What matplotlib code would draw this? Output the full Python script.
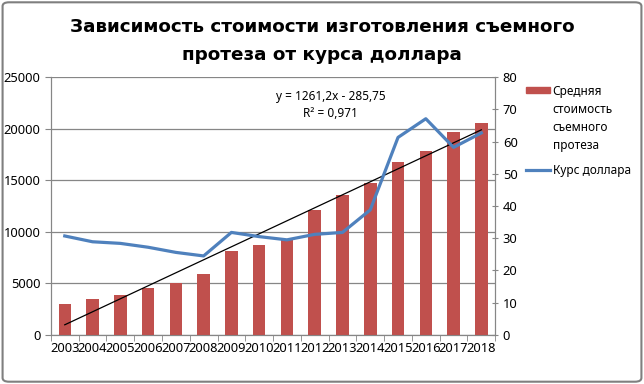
import numpy as np
import matplotlib.pyplot as plt
from matplotlib.patches import FancyBboxPatch, Rectangle
from matplotlib.lines import Line2D

plt.rcParams['font.family'] = ['Noto Sans', 'DejaVu Sans']

# Data
years = ['2003', '2004', '2005', '2006', '2007', '2008', '2009', '2010',
         '2011', '2012', '2013', '2014', '2015', '2016', '2017', '2018']
cost = [3000, 3500, 3900, 4500, 5000, 5900, 8100, 8700,
        9200, 12100, 13600, 14700, 16800, 17800, 19700, 20600]
usd_rate = [30.7, 28.9, 28.4, 27.2, 25.6, 24.5, 31.8, 30.5,
            29.5, 31.2, 31.8, 38.8, 61.3, 67.1, 58.2, 62.7]
trend_slope = 1261.2
trend_icept = -285.75

bar_color = '#C0504D'
line_color = '#4F81BD'
spine_color = '#868686'

fig = plt.figure(figsize=(6.44, 3.84), dpi=100)
# outer chart frame
fig.patches.append(FancyBboxPatch((0.004, 0.006), 0.992, 0.988, boxstyle='round,pad=0,rounding_size=0.01',
                                  transform=fig.transFigure, fill=False, ec='#7f7f7f', lw=1.5))

ax = fig.add_axes([0.079, 0.128, 0.69, 0.671])
x = np.arange(len(years))

ax.bar(x, cost, width=0.45, color=bar_color, zorder=3)

# linear trendline from its equation (x = 1..n)
xt = x + 1
ax.plot(x, trend_slope * xt + trend_icept, color='black', lw=0.9, zorder=5)

ax.set_ylim(0, 25000)
ax.set_yticks(np.arange(0, 25001, 5000))
ax.set_xlim(-0.5, len(years) - 0.5)
ax.set_xticks(x)
ax.set_xticklabels(years)
ax.set_xticks(np.arange(-0.5, len(years), 1), minor=True)
ax.tick_params(axis='x', which='major', length=0, labelsize=9.3, pad=5)
ax.tick_params(axis='x', which='minor', length=4, color=spine_color, direction='out')
ax.tick_params(axis='y', labelsize=9.3, length=4, color=spine_color)
ax.grid(axis='y', color='#868686', lw=0.9, zorder=0)
for s in ['left', 'bottom', 'right']:
    ax.spines[s].set_color(spine_color)
ax.spines['top'].set_visible(False)

ax2 = ax.twinx()
ax2.plot(x, usd_rate, color=line_color, lw=2.3, zorder=4)
ax2.set_ylim(0, 80)
ax2.set_yticks(np.arange(0, 81, 10))
ax2.tick_params(axis='y', labelsize=9.3, length=4, color=spine_color, direction='inout')
for s in ['left', 'bottom', 'right']:
    ax2.spines[s].set_color(spine_color)
ax2.spines['top'].set_visible(False)

ax.text(0.63, 0.925, 'y = 1261,2x - 285,75', transform=ax.transAxes, ha='center', va='center', fontsize=8.5)
ax.text(0.63, 0.86, 'R² = 0,971', transform=ax.transAxes, ha='center', va='center', fontsize=8.5)

fig.text(0.5, 0.93, 'Зависимость стоимости изготовления съемного', ha='center', va='center',
         fontsize=13.2, fontweight='bold', family=['DejaVu Sans'])
fig.text(0.5, 0.857, 'протеза от курса доллара', ha='center', va='center',
         fontsize=13.2, fontweight='bold', family=['DejaVu Sans'])

# legend, drawn by hand so the red patch sits by the first text line
fig.add_artist(Rectangle((0.816, 0.757), 0.038, 0.016, transform=fig.transFigure, color=bar_color))
fig.text(0.858, 0.778, 'Средняя\nстоимость\nсъемного\nпротеза', ha='left', va='top',
         fontsize=8.5, linespacing=1.5)
fig.add_artist(Line2D([0.816, 0.854], [0.557, 0.557], transform=fig.transFigure, color=line_color, lw=2.3))
fig.text(0.858, 0.557, 'Курс доллара', ha='left', va='center', fontsize=8.5)

fig.savefig('out.png', dpi=100)
